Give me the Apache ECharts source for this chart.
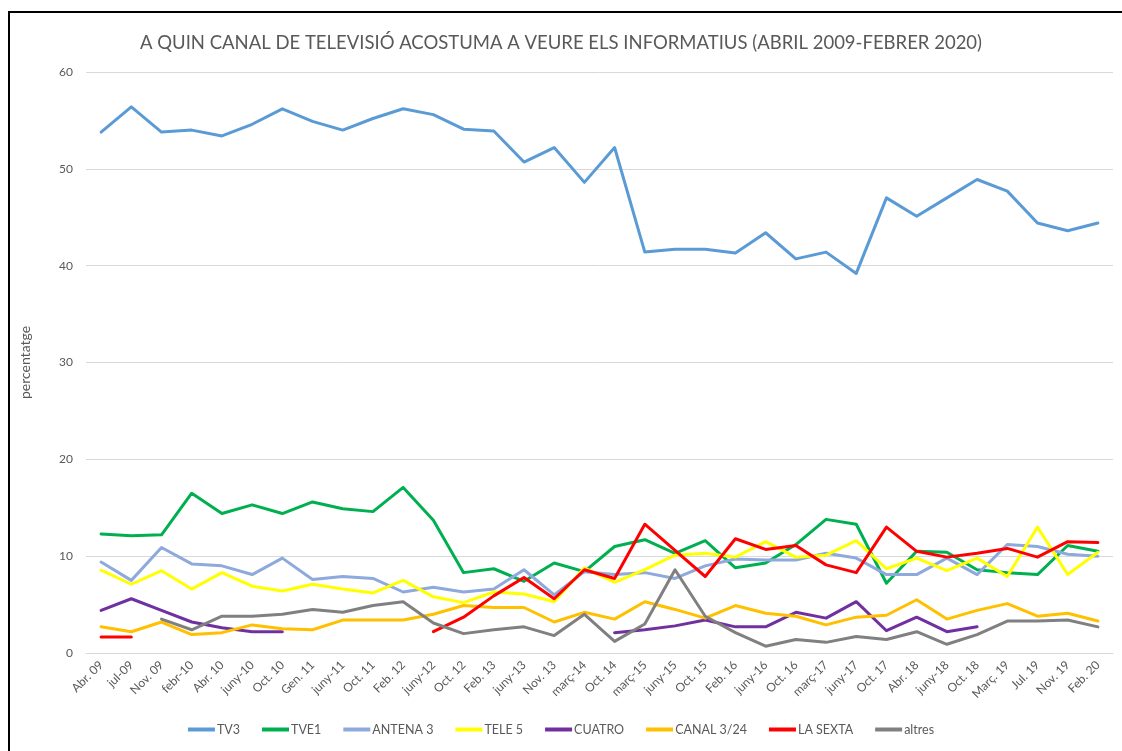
<!DOCTYPE html>
<html>
<head>
<meta charset="utf-8">
<script src="https://cdn.jsdelivr.net/npm/echarts@6/dist/echarts.min.js"></script>
<style>
html,body{margin:0;padding:0;background:#fff;}
#frame{position:absolute;left:8px;top:11px;width:1120px;height:745px;border-top:2px solid #000;border-left:2px solid #000;box-sizing:border-box;}
#chart{position:absolute;left:0;top:0;width:1122px;height:751px;}
</style>
</head>
<body>
<div id="frame"></div>
<div id="chart"></div>
<script>
const categories = ["Abr. 09","jul-09","Nov. 09","febr-10","Abr. 10","juny-10","Oct. 10","Gen. 11","juny-11","Oct. 11","Feb. 12","juny-12","Oct. 12","Feb. 13","juny-13","Nov. 13","març-14","Oct. 14","març-15","juny-15","Oct. 15","Feb. 16","juny-16","Oct. 16","març-17","juny-17","Oct. 17","Abr. 18","juny-18","Oct. 18","Març. 19","Jul. 19","Nov. 19","Feb. 20"];

const tv3 = [53.8,56.4,53.8,54.0,53.4,54.6,56.2,54.9,54.0,55.2,56.2,55.6,54.1,53.9,50.7,52.2,48.6,52.2,41.4,41.7,41.7,41.3,43.4,40.7,41.4,39.2,47.0,45.1,47.0,48.9,47.7,44.4,43.6,44.4];
const tve1 = [12.3,12.1,12.2,16.5,14.4,15.3,14.4,15.6,14.9,14.6,17.1,13.7,8.3,8.7,7.4,9.3,8.4,11.0,11.7,10.3,11.6,8.8,9.3,11.2,13.8,13.3,7.2,10.5,10.4,8.6,8.3,8.1,11.1,10.5];
const antena3 = [9.4,7.5,10.9,9.2,9.0,8.1,9.8,7.6,7.9,7.7,6.3,6.8,6.3,6.6,8.6,6.0,8.4,8.1,8.3,7.7,9.0,9.7,9.6,9.6,10.3,9.8,8.1,8.1,9.8,8.1,11.2,11.0,10.2,10.0];
const tele5 = [8.55,7.1,8.5,6.6,8.3,6.9,6.4,7.1,6.6,6.2,7.5,5.8,5.2,6.3,6.1,5.3,8.8,7.3,8.6,10.1,10.3,9.9,11.5,9.9,10.1,11.6,8.7,9.8,8.5,9.8,7.9,13.0,8.1,10.4];
const cuatro = [4.4,5.6,4.4,3.2,2.6,2.2,2.2,null,null,null,null,null,null,null,null,null,null,2.1,2.4,2.8,3.4,2.7,2.7,4.2,3.6,5.3,2.3,3.7,2.2,2.7,null,null,null,null];
const canal324 = [2.7,2.2,3.2,1.9,2.1,2.9,2.5,2.4,3.4,3.4,3.4,4.0,4.9,4.7,4.7,3.2,4.2,3.5,5.3,4.5,3.6,4.9,4.1,3.8,2.9,3.7,3.9,5.5,3.5,4.4,5.1,3.8,4.1,3.3];
const laSexta = [1.66,1.66,null,null,null,null,null,null,null,null,null,2.2,3.7,5.9,7.8,5.6,8.6,7.7,13.3,10.6,7.9,11.8,10.7,11.1,9.1,8.3,13.0,10.5,9.9,10.3,10.8,9.9,11.5,11.4];
const altres = [null,null,3.5,2.4,3.8,3.8,4.0,4.5,4.2,4.9,5.3,3.1,2.0,2.4,2.7,1.8,4.0,1.2,3.0,8.6,3.8,2.1,0.7,1.4,1.1,1.7,1.4,2.2,0.9,1.9,3.3,3.3,3.4,2.7];

const seriesNames = ["TV3","TVE1","ANTENA 3","TELE 5","CUATRO","CANAL 3/24","LA SEXTA","altres"];
const seriesData = [tv3,tve1,antena3,tele5,cuatro,canal324,laSexta,altres];
const seriesColors = ["#5B9BD5","#00B050","#8EA9DB","#FFFF00","#7030A0","#FFC000","#FF0000","#808080"];

const yTicks = [0,10,20,30,40,50,60];
const titleText = "A QUIN CANAL DE TELEVISIÓ ACOSTUMA A VEURE ELS INFORMATIUS (ABRIL 2009-FEBRER 2020)";
const yAxisName = "percentatge";

const FONT = "Lato, 'Open Sans', sans-serif";
const chart = echarts.init(document.getElementById('chart'), null, {renderer:'canvas'});
chart.setOption({
  backgroundColor: 'transparent',
  animation: false,
  textStyle: {fontFamily: FONT},
  title: {
    text: titleText,
    left: 'center',
    top: 29,
    textStyle: {fontFamily: FONT, fontSize: 18.5, fontWeight: 'normal', color: '#595959'}
  },
  legend: {
    data: seriesNames,
    bottom: 10,
    left: 'center',
    itemWidth: 27,
    itemHeight: 4,
    itemGap: 22,
    icon: 'rect',
    textStyle: {fontFamily: FONT, fontSize: 12.5, color: '#595959', padding: [0,0,0,-3]}
  },
  grid: {left: 86, right: 9, top: 72, bottom: 98, containLabel: false},
  xAxis: {
    type: 'category',
    data: categories,
    boundaryGap: true,
    axisLine: {show: true, lineStyle: {color: '#d9d9d9', width: 1}},
    axisTick: {show: false},
    axisLabel: {rotate: 45, fontFamily: FONT, fontSize: 12, color: '#595959', margin: 10, interval: 0}
  },
  yAxis: {
    type: 'value',
    min: yTicks[0],
    max: yTicks[yTicks.length-1],
    interval: 10,
    name: yAxisName,
    nameLocation: 'middle',
    nameGap: 54,
    nameRotate: 90,
    nameTextStyle: {fontFamily: FONT, fontSize: 14, color: '#595959'},
    axisLine: {show: false},
    axisTick: {show: false},
    axisLabel: {fontFamily: FONT, fontSize: 12, color: '#595959', margin: 13},
    splitLine: {lineStyle: {color: '#d9d9d9', width: 1}}
  },
  series: seriesNames.map((n,i) => ({
    name: n,
    type: 'line',
    data: seriesData[i],
    color: seriesColors[i],
    showSymbol: false,
    symbol: 'none',
    connectNulls: false,
    lineStyle: {width: 3, color: seriesColors[i], join: 'round', cap: 'round'}
  }))
});
</script>
</body>
</html>
